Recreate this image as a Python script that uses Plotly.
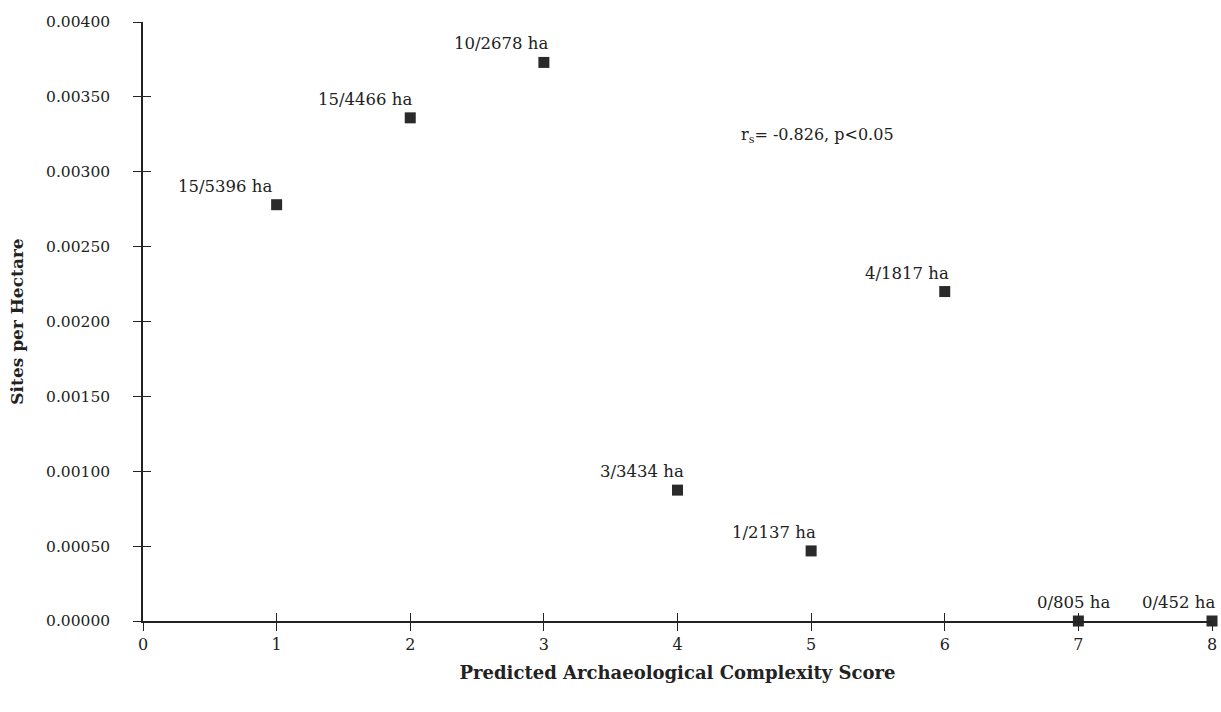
import plotly.graph_objects as go

scores = [1, 2, 3, 4, 5, 6, 7, 8]
sites_per_ha = [0.00278, 0.00336, 0.00373, 0.000874, 0.000468, 0.00220, 0.0, 0.0]
labels = ["15/5396 ha", "15/4466 ha", "10/2678 ha", "3/3434 ha", "1/2137 ha",
          "4/1817 ha", "0/805 ha", "0/452 ha"]
label_xshift = [-3, 4, 6, 8, 7, 6, 34, 5]

x_ticks = [0, 1, 2, 3, 4, 5, 6, 7, 8]
y_ticks = [0.0, 0.0005, 0.001, 0.0015, 0.002, 0.0025, 0.003, 0.0035, 0.004]

FONT = "DejaVu Serif"
INK = "#222222"

fig = go.Figure()
fig.add_trace(go.Scatter(
    x=scores, y=sites_per_ha, mode="markers",
    marker=dict(symbol="square", size=11, color="#2a2a2a"),
    cliponaxis=False, showlegend=False,
))
# invisible trace for inner tick axes
fig.add_trace(go.Scatter(x=[0], y=[0], xaxis="x2", yaxis="y2", mode="markers",
                         marker=dict(opacity=0), showlegend=False, hoverinfo="skip"))

for xv, yv, t, dx in zip(scores, sites_per_ha, labels, label_xshift):
    fig.add_annotation(x=xv, y=yv, text=t, showarrow=False, xanchor="right",
                       yanchor="bottom", xshift=dx, yshift=7,
                       font=dict(family=FONT, size=16.5, color=INK))

fig.add_annotation(x=5.05, y=0.00324, text="r<sub>s</sub>= -0.826, p<0.05",
                   showarrow=False, xanchor="center", yanchor="middle",
                   font=dict(family=FONT, size=16, color=INK))

axis_common = dict(showgrid=False, zeroline=False, linecolor=INK, linewidth=1.5,
                   tickcolor=INK, tickwidth=1.2, ticklen=8, automargin=False)

fig.update_layout(
    width=1221, height=712,
    margin=dict(l=143, r=9, t=22, b=91),
    plot_bgcolor="white", paper_bgcolor="white",
    font=dict(family=FONT, size=15, color=INK),
    xaxis=dict(range=[0, 8], tickvals=x_ticks, ticks="outside", showline=True,
               title=dict(text="<b>Predicted Archaeological Complexity Score</b>",
                          font=dict(family=FONT, size=18), standoff=13),
               tickfont=dict(family=FONT, size=16), **axis_common),
    yaxis=dict(range=[0, 0.004], tickvals=y_ticks, tickformat=".5f", ticks="outside",
               showline=True,
               title=dict(text="<b>Sites per Hectare</b>",
                          font=dict(family=FONT, size=17), standoff=18),
               tickfont=dict(family=FONT, size=15.5), ticklabelstandoff=20, **axis_common),
    xaxis2=dict(range=[0, 8], tickvals=x_ticks, ticks="inside", showticklabels=False,
                overlaying="x", anchor="y2", showline=False, **axis_common),
    yaxis2=dict(range=[0, 0.004], tickvals=y_ticks, ticks="inside", showticklabels=False,
                overlaying="y", anchor="x2", showline=False, **axis_common),
)

fig.write_html("out.html", config={"displayModeBar": False},
               post_script="document.body.style.margin='0';document.body.style.overflow='hidden';")
